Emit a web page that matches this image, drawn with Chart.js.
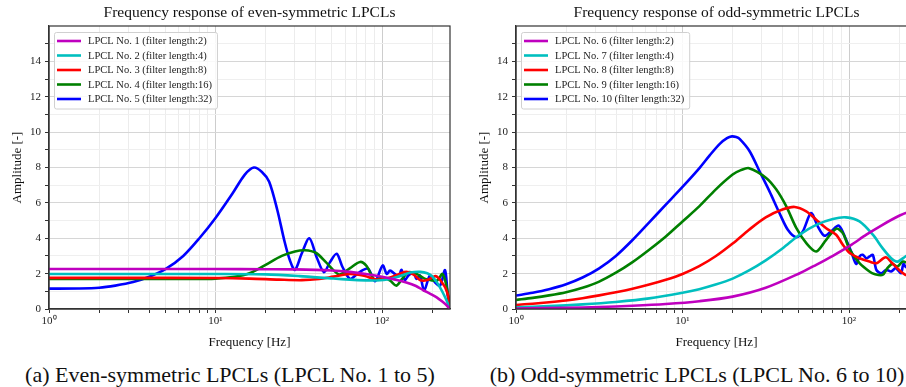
<!DOCTYPE html>
<html lang="en">
<head>
  <meta charset="UTF-8"/>
  <title>Frequency response of LPCLs</title>
  <script src="https://cdn.jsdelivr.net/npm/chart.js"></script>
  <style>
    html, body { margin: 0; padding: 0; background: #fff; overflow: hidden; }
    body { width: 906px; height: 387px; position: relative; font-family: "Liberation Serif", serif; }
    .panel { position: absolute; top: 0; width: 460px; height: 355px; }
    .caption {
      position: absolute; top: 363px; width: 460px;
      font-size: 22px; line-height: 24px; color: #111;
      text-align: center; white-space: nowrap;
    }
  </style>
</head>
<body>
  <div class="panel" style="left:0"><canvas id="evenChart" width="460" height="355"></canvas></div>
  <div class="panel" style="left:467px"><canvas id="oddChart" width="460" height="355"></canvas></div>
  <div class="caption" style="left:0">(a) Even-symmetric LPCLs (LPCL No. 1 to 5)</div>
  <div class="caption" style="left:467px">(b) Odd-symmetric LPCLs (LPCL No. 6 to 10)</div>

  <script>
    // tick positions
    const freqTicks = [1, 2, 3, 4, 5, 6, 7, 8, 9, 10, 20, 30, 40, 50, 60, 70, 80, 90, 100, 200];
    const ampTicks  = [0, 1, 2, 3, 4, 5, 6, 7, 8, 9, 10, 11, 12, 13, 14, 15];
    const decadeLabels = { 1: "10\u2070", 10: "10\u00b9", 100: "10\u00b2" };

    const lineColors = ["#bf00bf", "#00bfbf", "#ff0000", "#008000", "#0000ff"];

    const evenLabels = [
      "LPCL No. 1 (filter length:2)",
      "LPCL No. 2 (filter length:4)",
      "LPCL No. 3 (filter length:8)",
      "LPCL No. 4 (filter length:16)",
      "LPCL No. 5 (filter length:32)"
    ];
    const oddLabels = [
      "LPCL No. 6 (filter length:2)",
      "LPCL No. 7 (filter length:4)",
      "LPCL No. 8 (filter length:8)",
      "LPCL No. 9 (filter length:16)",
      "LPCL No. 10 (filter length:32)"
    ];

    // even-symmetric responses (frequency in Hz, amplitude)
    const even1F = [1, 3, 10, 20, 30, 50, 64, 80, 100, 120, 140, 160, 177, 195, 213, 230, 245, 256];
    const even1A = [2.26, 2.26, 2.26, 2.25, 2.24, 2.18, 2.1, 1.98, 1.82, 1.66, 1.5, 1.3, 1.06, 0.86, 0.66, 0.42, 0.2, 0];

    const even2F = [1, 3, 10, 20, 32, 51, 64, 80, 93, 110, 130, 148, 170, 187, 200, 213, 225, 234, 245, 256];
    const even2A = [1.98, 1.98, 1.98, 1.96, 1.86, 1.72, 1.66, 1.62, 1.61, 1.68, 1.88, 2.06, 2.1, 2.02, 1.85, 1.52, 1.15, 0.85, 0.45, 0];

    const even3F = [1, 3, 10, 16, 24, 33, 42, 51, 64, 78, 93, 112, 128, 140, 155, 169, 185, 200, 210, 220, 229, 240, 250, 256];
    const even3A = [1.76, 1.76, 1.75, 1.72, 1.66, 1.63, 1.7, 1.83, 1.98, 1.88, 1.66, 1.78, 2.0, 2.1, 1.95, 1.64, 1.62, 1.78, 1.86, 1.72, 1.5, 1.2, 0.7, 0];

    const even4F = [1, 3, 7, 10, 13, 16, 20, 25, 30, 34.4, 40, 46, 51, 55.5, 64, 73.8, 81, 90, 101, 112, 122, 132, 144, 160, 180, 200, 215, 231, 245, 256];
    const even4A = [1.7, 1.7, 1.7, 1.72, 1.82, 2.02, 2.5, 3.0, 3.25, 3.32, 3.18, 2.65, 2.2, 1.95, 2.3, 2.66, 2.42, 1.66, 1.78, 1.6, 1.32, 1.7, 2.08, 2.0, 1.72, 1.62, 1.62, 1.98, 1.2, 0];

    const even5F = [1, 1.5, 2, 2.5, 3.2, 4, 5, 6.4, 8, 10, 12.7, 15, 17, 19, 21, 23.5, 26, 28, 30, 32.9, 36.6, 40.5, 44.8, 48.7,
                    53.4, 58, 64.2, 70.4, 76.6, 82.8, 90.8, 100.9, 106.7, 111.7, 119.7, 126, 131, 137, 144, 154, 161, 169,
                    179, 194, 208, 223, 239, 248, 256];
    const even5A = [1.15, 1.16, 1.2, 1.32, 1.52, 1.82, 2.25, 3.0, 4.0, 5.15, 6.56, 7.6, 8.0, 7.75, 7.2, 5.6, 3.8, 2.74, 2.21, 3.12,
                    4.0, 2.93, 2.08, 2.65, 3.12, 2.36, 1.7, 1.95, 2.2, 2.27, 1.57, 2.46, 1.98, 2.17, 1.98, 1.85, 2.21, 1.64,
                    1.89, 2.08, 1.7, 1.9, 1.04, 1.89, 1.51, 1.32, 2.2, 0.8, 0];

    // odd-symmetric responses
    const odd6F = [1, 2, 3.16, 5.01, 7.94, 12.6, 20, 31.6, 50.5, 63.5, 80, 101, 127, 159, 200, 230, 256];
    const odd6A = [0.03, 0.07, 0.11, 0.18, 0.28, 0.44, 0.7, 1.2, 2.02, 2.5, 3.01, 3.57, 4.2, 4.76, 5.27, 5.5, 5.6];

    const odd7F = [1, 1.58, 2.51, 3.98, 6.31, 10, 12.6, 15.8, 20, 25.1, 31.6, 39.8, 50.5, 63.5, 80, 96, 115.6, 139, 159, 179, 195, 218, 235];
    const odd7A = [0.1, 0.16, 0.26, 0.4, 0.6, 0.92, 1.12, 1.38, 1.72, 2.18, 2.75, 3.42, 4.2, 4.76, 5.09, 5.18, 4.95, 4.2, 3.44, 2.87, 2.68, 2.97, 3.2];

    const odd8F = [1, 1.26, 1.58, 2, 2.51, 3.16, 3.98, 5.01, 6.31, 7.94, 10, 12.6, 15.8, 20, 25.1, 31.6, 39.8, 47.2, 55.4, 63.5,
                   72.9, 83.7, 91.8, 101, 115.6, 132.6, 146, 166, 182, 200, 218, 235];
    const odd8A = [0.23, 0.3, 0.38, 0.48, 0.61, 0.77, 0.95, 1.15, 1.38, 1.65, 1.98, 2.42, 2.98, 3.7, 4.48, 5.18, 5.62, 5.77, 5.52, 5.05,
                   4.57, 4.2, 3.63, 3.16, 2.87, 2.68, 2.59, 2.93, 2.59, 2.21, 1.93, 1.85];

    const odd9F = [1, 1.26, 1.58, 2, 2.51, 3.16, 3.98, 5.01, 6.31, 7.94, 10, 12.6, 15.8, 20, 22.4, 25.1, 31.8, 36.6, 42, 48.3,
                   55.4, 63.5, 72.9, 83.7, 91.8, 101, 115.6, 132.6, 142, 159, 170, 182, 195, 210, 225];
    const odd9A = [0.51, 0.63, 0.77, 0.95, 1.2, 1.55, 2.05, 2.65, 3.35, 4.1, 4.95, 5.8, 6.75, 7.6, 7.85, 7.96, 7.41, 6.75, 5.8, 4.57,
                   3.72, 3.25, 3.91, 4.54, 4.29, 3.35, 2.59, 2.12, 1.98, 1.93, 2.31, 2.55, 2.4, 2.68, 2.6];

    const odd10F = [1, 1.26, 1.58, 2, 2.51, 3.16, 3.98, 5.01, 6.31, 7.94, 10, 12.6, 14.6, 16.8, 18.5, 19.8, 21, 22.1, 25.3, 29,
                    33.3, 38.2, 42.9, 48.2, 52.8, 59.2, 64.9, 71.2, 78.1, 86.8, 96.1, 103, 110.4, 115.6, 121, 127, 133, 139,
                    146, 156, 167, 179, 191, 205, 212, 218, 225];
    const odd10A = [0.76, 0.92, 1.12, 1.4, 1.78, 2.3, 3.0, 3.9, 4.9, 5.9, 6.9, 7.95, 8.7, 9.35, 9.66, 9.76, 9.72, 9.6, 8.92, 7.79,
                    6.65, 5.43, 4.48, 4.06, 4.39, 5.43, 4.67, 4.14, 4.39, 4.71, 3.91, 3.25, 2.55, 2.97, 3.06, 2.87, 2.97, 3.06,
                    2.21, 2.02, 2.21, 2.12, 2.31, 2.02, 2.55, 2.4, 2.3];

    Chart.defaults.font.family = '"Liberation Serif", "Times New Roman", serif';
    Chart.defaults.color = "#222";

    // box around the whole plot area, like matplotlib spines
    const framePlugin = {
      id: "frame",
      afterDatasetsDraw(chart) {
        const { ctx, chartArea: a } = chart;
        ctx.save();
        ctx.strokeStyle = "#333";
        ctx.lineWidth = 1.2;
        ctx.strokeRect(a.left, a.top, a.right - a.left, a.bottom - a.top);
        ctx.restore();
      }
    };

    // legend drawn inside the plot, upper left, with a framed box
    const boxLegend = {
      id: "boxLegend",
      afterDraw(chart) {
        const { ctx, chartArea: a } = chart;
        const sets = chart.data.datasets;
        ctx.save();
        ctx.font = '10.5px "Liberation Serif"';
        const textW = Math.max(...sets.map(d => ctx.measureText(d.label).width));
        const x0 = a.left + 5, y0 = a.top + 6;
        const rowH = 14.5;
        const w = 3 + 24 + 7 + textW + 5;
        const h = sets.length * rowH + 4;
        ctx.fillStyle = "rgba(255,255,255,0.85)";
        ctx.strokeStyle = "#d0d0d0";
        ctx.lineWidth = 1;
        ctx.beginPath();
        if (ctx.roundRect) ctx.roundRect(x0 + 0.5, y0 + 0.5, w, h, 2);
        else ctx.rect(x0 + 0.5, y0 + 0.5, w, h);
        ctx.fill();
        ctx.stroke();
        ctx.textBaseline = "middle";
        sets.forEach((d, i) => {
          const cy = y0 + 9 + i * rowH;
          ctx.strokeStyle = d.borderColor;
          ctx.lineWidth = 2.6;
          ctx.beginPath();
          ctx.moveTo(x0 + 3, cy);
          ctx.lineTo(x0 + 27, cy);
          ctx.stroke();
          ctx.fillStyle = "#222";
          ctx.fillText(d.label, x0 + 34, cy + 0.5);
        });
        ctx.restore();
      }
    };

    function buildChart(id, title, labels, freqs, amps) {
      const datasets = labels.map((label, i) => ({
        label,
        data: freqs[i].map((f, j) => ({ x: f, y: amps[i][j] })),
        borderColor: lineColors[i],
        backgroundColor: lineColors[i],
        borderWidth: 2.6,
        pointRadius: 0,
        tension: 0.3,
        fill: false
      }));

      return new Chart(document.getElementById(id), {
        type: "line",
        data: { datasets },
        options: {
          responsive: false,
          animation: false,
          devicePixelRatio: 1,
          layout: { padding: { left: 0, right: 10, top: 0, bottom: 0 } },
          plugins: {
            legend: { display: false },
            tooltip: { enabled: false },
            title: {
              display: true,
              text: title,
              fullSize: false,
              color: "#111",
              font: { size: 15.5, weight: "normal" },
              padding: { top: 4, bottom: 3.4 }
            }
          },
          scales: {
            x: {
              type: "logarithmic",
              min: 1,
              max: 256,
              afterBuildTicks: s => { s.ticks = freqTicks.map(v => ({ value: v })); },
              afterFit: s => { s.height = 46; },
              ticks: {
                autoSkip: false,
                maxRotation: 0,
                padding: 2,
                color: "#222",
                font: { size: 11 },
                callback: v => decadeLabels[v] || ""
              },
              grid: {
                color: c => (c.tick && decadeLabels[c.tick.value]) ? "#cdcdcd" : "#ececec",
                tickColor: "#333",
                tickLength: 4
              },
              border: { color: "#333", width: 1.2 },
              title: {
                display: true,
                text: "Frequency [Hz]",
                color: "#111",
                font: { size: 13 },
                padding: { top: 0, bottom: 5 }
              }
            },
            y: {
              min: 0,
              max: 16,
              afterBuildTicks: s => { s.ticks = ampTicks.map(v => ({ value: v })); },
              afterFit: s => { s.width = 49; },
              ticks: {
                padding: 4,
                color: "#222",
                font: { size: 11 },
                callback: v => (v % 2 === 0 ? String(v) : "")
              },
              grid: {
                color: c => (c.tick && c.tick.value % 2 === 0) ? "#d6d6d6" : "#efefef",
                tickColor: "#333",
                tickLength: 4
              },
              border: { color: "#333", width: 1.2 },
              title: {
                display: true,
                text: "Amplitude [-]",
                color: "#111",
                font: { size: 13 },
                padding: { top: 10, bottom: 0 }
              }
            }
          }
        },
        plugins: [framePlugin, boxLegend]
      });
    }

    buildChart("evenChart", "Frequency response of even-symmetric LPCLs", evenLabels,
      [even1F, even2F, even3F, even4F, even5F],
      [even1A, even2A, even3A, even4A, even5A]);

    buildChart("oddChart", "Frequency response of odd-symmetric LPCLs", oddLabels,
      [odd6F, odd7F, odd8F, odd9F, odd10F],
      [odd6A, odd7A, odd8A, odd9A, odd10A]);
  </script>
</body>
</html>
